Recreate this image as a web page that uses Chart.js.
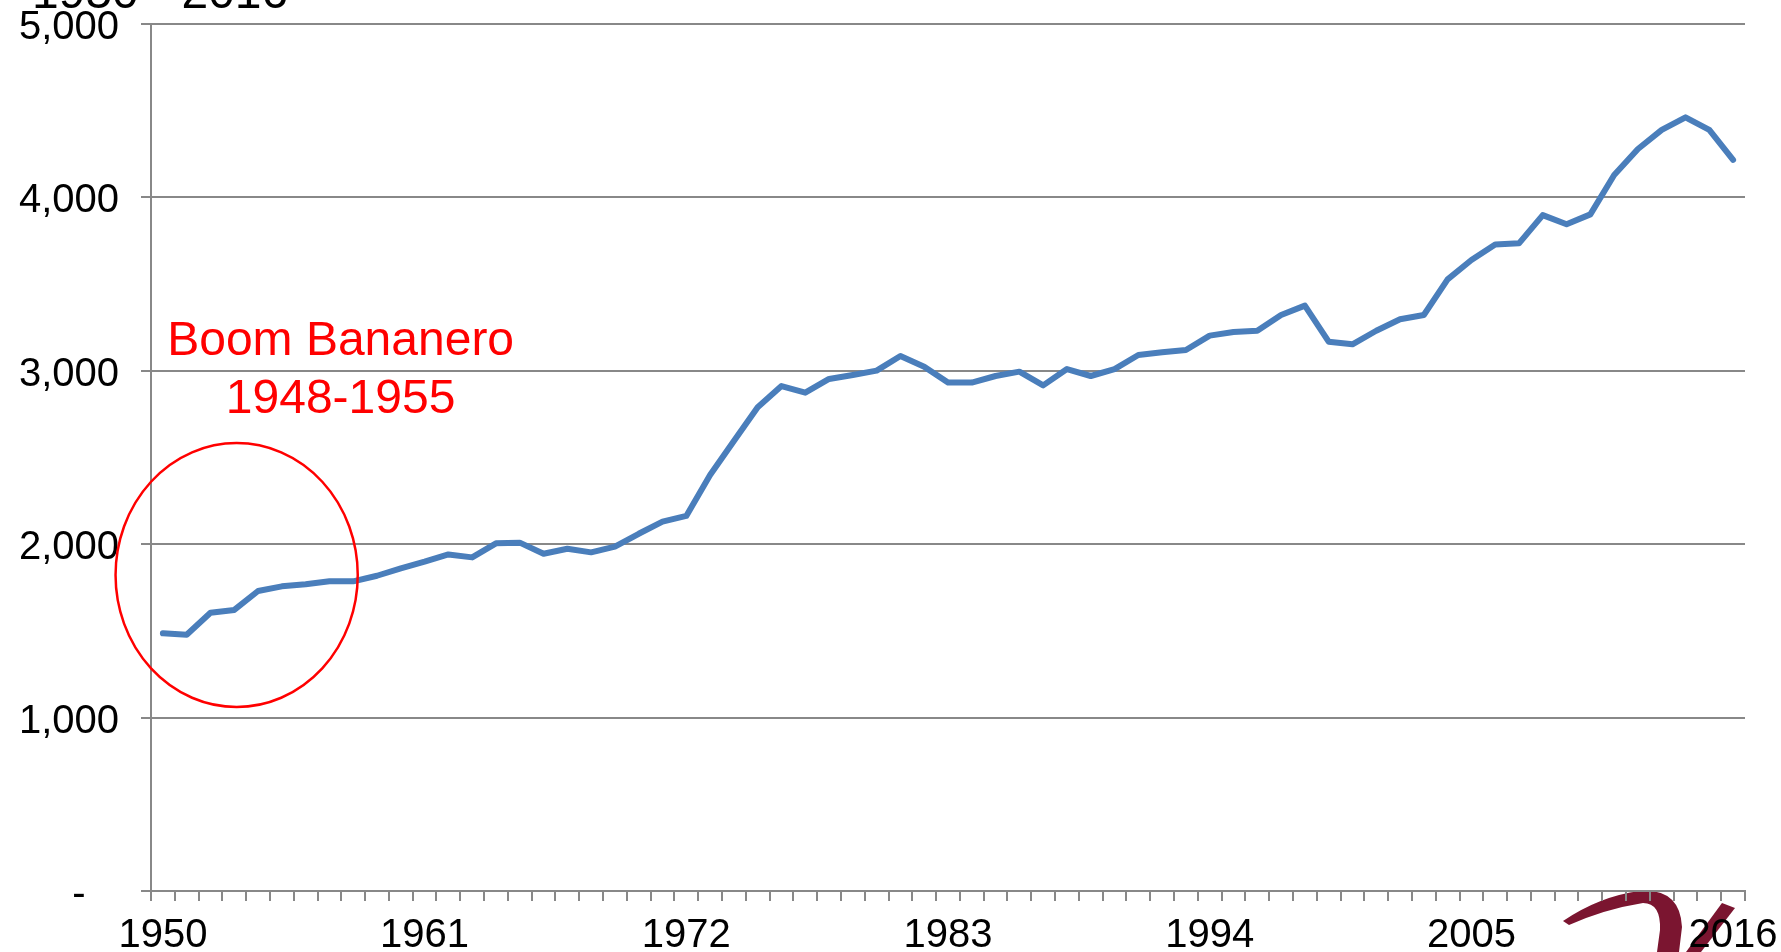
<!DOCTYPE html>
<html>
<head>
<meta charset="utf-8">
<script src="https://cdn.jsdelivr.net/npm/chart.js@4.4.1/dist/chart.umd.min.js"></script>
<style>
  html, body { margin: 0; padding: 0; background: #fff; overflow: hidden; }
  #grafico { display: block; }
</style>
</head>
<body>
<canvas id="grafico" width="1781" height="952"></canvas>
<script>
const anos = [
  '1950','1951','1952','1953','1954','1955','1956','1957','1958','1959',
  '1960','1961','1962','1963','1964','1965','1966','1967','1968','1969',
  '1970','1971','1972','1973','1974','1975','1976','1977','1978','1979',
  '1980','1981','1982','1983','1984','1985','1986','1987','1988','1989',
  '1990','1991','1992','1993','1994','1995','1996','1997','1998','1999',
  '2000','2001','2002','2003','2004','2005','2006','2007','2008','2009',
  '2010','2011','2012','2013','2014','2015','2016'
];
const valores = [
  1486, 1478, 1605, 1621, 1730, 1757, 1769, 1786, 1786, 1818,
  1861, 1899, 1941, 1924, 2005, 2009, 1945, 1974, 1953, 1986,
  2060, 2130, 2163, 2399, 2595, 2790, 2912, 2874, 2953, 2976,
  3001, 3085, 3024, 2932, 2932, 2970, 2995, 2916, 3010, 2970,
  3010, 3091, 3107, 3120, 3203, 3224, 3231, 3322, 3376, 3168,
  3153, 3231, 3297, 3322, 3527, 3639, 3729, 3735, 3898, 3845,
  3902, 4129, 4279, 4389, 4462, 4389, 4216
];
const anosConEtiqueta = ['1950', '1961', '1972', '1983', '1994', '2005', '2016'];
const marcasY = [0, 1000, 2000, 3000, 4000, 5000];
const titulo = '1950 - 2016';
const notaTexto = ['Boom Bananero', '1948-1955'];

const gris = '#888888';
const fuente = '"Liberation Sans", Arial, sans-serif';

// circulo rojo, texto y logo
const anotacion = {
  id: 'anotacion',
  beforeDraw(chart) {
    const ctx = chart.ctx;
    ctx.save();
    ctx.fillStyle = '#7b1530';
    ctx.beginPath();
    ctx.moveTo(1563, 921);
    ctx.quadraticCurveTo(1600, 896, 1640, 891);
    ctx.quadraticCurveTo(1680, 888, 1682, 927);
    ctx.lineTo(1679, 952);
    ctx.lineTo(1657, 952);
    ctx.lineTo(1660, 930);
    ctx.quadraticCurveTo(1661, 903, 1643, 903);
    ctx.quadraticCurveTo(1605, 909, 1569, 925);
    ctx.closePath();
    ctx.fill();
    ctx.beginPath();
    ctx.moveTo(1722, 903);
    ctx.lineTo(1735, 908);
    ctx.lineTo(1701, 952);
    ctx.lineTo(1686, 952);
    ctx.closePath();
    ctx.fill();
    ctx.restore();
  },
  afterDraw(chart) {
    const ctx = chart.ctx;
    const x = chart.scales.x;
    const y = chart.scales.y;
    const paso = x.getPixelForValue(1) - x.getPixelForValue(0);

    ctx.save();
    ctx.strokeStyle = '#ff0000';
    ctx.lineWidth = 2.5;
    ctx.beginPath();
    ctx.ellipse(
      x.getPixelForValue(0) + paso * 3.1,
      y.getPixelForValue(1822),
      paso * 5.09,
      y.getPixelForValue(0) - y.getPixelForValue(761),
      0, 0, Math.PI * 2
    );
    ctx.stroke();

    ctx.fillStyle = '#ff0000';
    ctx.font = '48px ' + fuente;
    ctx.textAlign = 'center';
    ctx.textBaseline = 'alphabetic';
    const cx = x.getPixelForValue(0) + paso * 7.47;
    ctx.fillText(notaTexto[0], cx, y.getPixelForValue(3091));
    ctx.fillText(notaTexto[1], cx, y.getPixelForValue(2758));

    ctx.fillStyle = '#000';
    ctx.textAlign = 'left';
    ctx.fillText(titulo, 32, 8);
    ctx.restore();
  }
};

new Chart(document.getElementById('grafico'), {
  type: 'line',
  data: {
    labels: anos,
    datasets: [{
      data: valores,
      borderColor: '#4a7ebb',
      borderWidth: 6,
      borderJoinStyle: 'round',
      borderCapStyle: 'round',
      pointRadius: 0,
      tension: 0,
      fill: false
    }]
  },
  options: {
    responsive: false,
    animation: false,
    devicePixelRatio: 1,
    layout: { padding: { top: 24, right: 36, bottom: 0, left: 0 } },
    plugins: {
      legend: { display: false },
      tooltip: { enabled: false }
    },
    scales: {
      x: {
        type: 'category',
        offset: true,
        grid: {
          offset: true,
          drawOnChartArea: false,
          drawTicks: true,
          tickLength: 10,
          color: gris,
          lineWidth: 2
        },
        border: { display: true, color: gris, width: 2 },
        ticks: {
          autoSkip: false,
          maxRotation: 0,
          minRotation: 0,
          padding: 11,
          color: '#000',
          font: { family: fuente, size: 40 },
          callback: (v, i) => anosConEtiqueta.includes(anos[i]) ? anos[i] : ''
        },
        afterFit: (s) => {
          s.height = 61;
          s.paddingLeft = 0;
          s.paddingRight = 0;
        }
      },
      y: {
        min: 0,
        max: 5000,
        afterBuildTicks: (s) => { s.ticks = marcasY.map(v => ({ value: v })); },
        grid: {
          drawTicks: true,
          tickLength: 10,
          color: gris,
          lineWidth: 2
        },
        border: { display: true, color: gris, width: 2 },
        ticks: {
          padding: 22,
          labelOffset: 4,
          color: '#000',
          font: { family: fuente, size: 40 },
          callback: (v) => v === 0 ? '-   ' : v.toLocaleString('en-US')
        },
        afterFit: (s) => {
          s.width = 151;
          s.paddingTop = 0;
          s.paddingBottom = 0;
        }
      }
    }
  },
  plugins: [anotacion]
});
</script>
</body>
</html>
